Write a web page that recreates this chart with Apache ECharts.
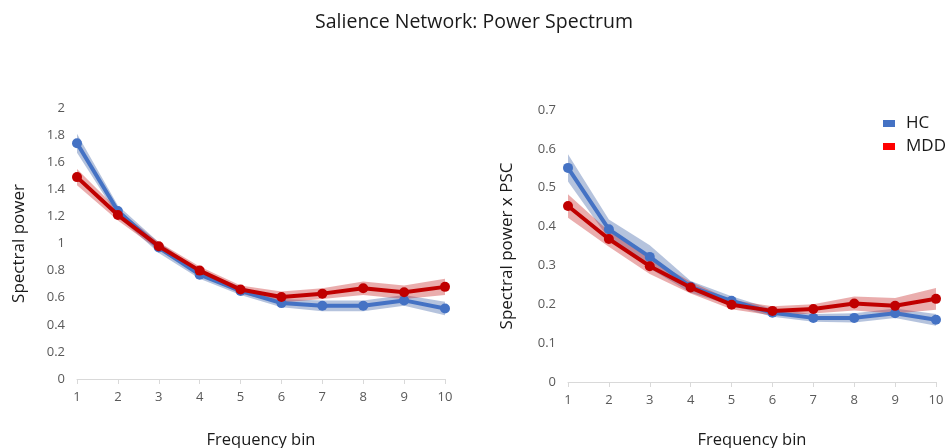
<!DOCTYPE html>
<html>
<head>
<meta charset="utf-8">
<script src="https://cdn.jsdelivr.net/npm/echarts@6/dist/echarts.min.js"></script>
<style>
  html, body { margin: 0; padding: 0; background: #fff; }
  #chart { width: 948px; height: 448px; }
</style>
</head>
<body>
<div id="chart"></div>
<script>
// Frequency bins shared by both panels
const bins = ['1', '2', '3', '4', '5', '6', '7', '8', '9', '10'];

// Left panel: spectral power (mean and band half-width)
const hcPower = [1.74, 1.24, 0.97, 0.77, 0.65, 0.56, 0.54, 0.54, 0.58, 0.52];
const hcPowerErr = [0.07, 0.04, 0.04, 0.03, 0.03, 0.03, 0.04, 0.04, 0.04, 0.05];
const mddPower = [1.49, 1.21, 0.98, 0.80, 0.66, 0.605, 0.63, 0.67, 0.64, 0.68];
const mddPowerErr = [0.06, 0.04, 0.03, 0.03, 0.03, 0.04, 0.04, 0.05, 0.05, 0.06];

// Right panel: spectral power x PSC (mean and band half-width)
const hcPsc = [0.551, 0.393, 0.322, 0.245, 0.209, 0.178, 0.165, 0.165, 0.177, 0.16];
const hcPscErr = [0.035, 0.025, 0.03, 0.015, 0.012, 0.01, 0.01, 0.012, 0.012, 0.015];
const mddPsc = [0.453, 0.368, 0.298, 0.243, 0.199, 0.183, 0.188, 0.202, 0.196, 0.214];
const mddPscErr = [0.03, 0.02, 0.02, 0.015, 0.012, 0.012, 0.012, 0.018, 0.02, 0.028];

const HC_LINE = '#4472C4';
const MDD_LINE = '#C00000';
const HC_BAND = 'rgba(70,105,170,0.40)';
const MDD_BAND = 'rgba(200,40,40,0.38)';
const FONT = '"Open Sans", "Noto Sans", sans-serif';

function lower(mean, err) { return mean.map((v, i) => +(v - err[i]).toFixed(4)); }
function width(err) { return err.map(e => +(2 * e).toFixed(4)); }

// Shaded band built from an invisible lower line plus a stacked area of the band width
function band(idx, key, mean, err, color) {
  return [
    {
      type: 'line', name: key + '-lo', xAxisIndex: idx, yAxisIndex: idx,
      stack: key, data: lower(mean, err), symbol: 'none', silent: true,
      lineStyle: { opacity: 0 }, z: 1
    },
    {
      type: 'line', name: key + '-band', xAxisIndex: idx, yAxisIndex: idx,
      stack: key, data: width(err), symbol: 'none', silent: true,
      lineStyle: { opacity: 0 }, areaStyle: { color: color, opacity: 1 }, z: 1
    }
  ];
}

function meanLine(idx, name, data, color, z) {
  return {
    type: 'line', name: name, xAxisIndex: idx, yAxisIndex: idx, data: data,
    symbol: 'circle', symbolSize: 10, showSymbol: true,
    lineStyle: { color: color, width: 4 }, itemStyle: { color: color },
    z: z
  };
}

function xAxis(idx, gap) {
  return {
    type: 'category', gridIndex: idx, data: bins, boundaryGap: false,
    name: 'Frequency bin', nameLocation: 'middle', nameGap: gap,
    nameTextStyle: { fontFamily: FONT, fontSize: 16.5, color: '#1a1a1a' },
    axisLine: { lineStyle: { color: '#d9d9d9', width: 1 } },
    axisTick: { show: true, length: 5, lineStyle: { color: '#d9d9d9' } },
    axisLabel: { fontFamily: FONT, fontSize: 13, color: '#595959', margin: 12 },
    splitLine: { show: false }
  };
}

function yAxis(idx, name, max, interval, gap) {
  return {
    type: 'value', gridIndex: idx, min: 0, max: max, interval: interval,
    name: name, nameLocation: 'middle', nameGap: gap,
    nameTextStyle: { fontFamily: FONT, fontSize: 17, color: '#1a1a1a' },
    axisLine: { show: false }, axisTick: { show: false },
    axisLabel: { fontFamily: FONT, fontSize: 13, color: '#595959', margin: 12 },
    splitLine: { show: false }
  };
}

const chart = echarts.init(document.getElementById('chart'), null, { renderer: 'canvas' });
chart.setOption({
  backgroundColor: '#ffffff',
  animation: false,
  title: {
    text: 'Salience Network: Power Spectrum', left: 'center', top: 7,
    textStyle: { fontFamily: FONT, fontSize: 19.5, fontWeight: 'normal', color: '#1a1a1a' }
  },
  legend: {
    orient: 'vertical', left: 878, top: 110, itemGap: 6,
    itemWidth: 12, itemHeight: 7, icon: 'rect',
    textStyle: { fontFamily: FONT, fontSize: 17, color: '#1a1a1a', padding: [0, 0, 0, 6] },
    data: [
      { name: 'HC', itemStyle: { color: HC_LINE } },
      { name: 'MDD', itemStyle: { color: '#FF0000' } }
    ],
    selectedMode: false
  },
  grid: [
    { left: 77, top: 108, width: 368, height: 271, containLabel: false, outerBoundsMode: 'none' },
    { left: 568, top: 110, width: 368, height: 272, containLabel: false, outerBoundsMode: 'none' }
  ],
  xAxis: [xAxis(0, 53), xAxis(1, 50)],
  yAxis: [
    yAxis(0, 'Spectral power', 2, 0.2, 49),
    yAxis(1, 'Spectral power x PSC', 0.7, 0.1, 52)
  ],
  series: [
    ...band(0, 'hcP', hcPower, hcPowerErr, HC_BAND),
    ...band(0, 'mddP', mddPower, mddPowerErr, MDD_BAND),
    meanLine(0, 'HC', hcPower, HC_LINE, 3),
    meanLine(0, 'MDD', mddPower, MDD_LINE, 4),
    ...band(1, 'hcS', hcPsc, hcPscErr, HC_BAND),
    ...band(1, 'mddS', mddPsc, mddPscErr, MDD_BAND),
    meanLine(1, 'HC', hcPsc, HC_LINE, 3),
    meanLine(1, 'MDD', mddPsc, MDD_LINE, 4)
  ]
});
</script>
</body>
</html>
